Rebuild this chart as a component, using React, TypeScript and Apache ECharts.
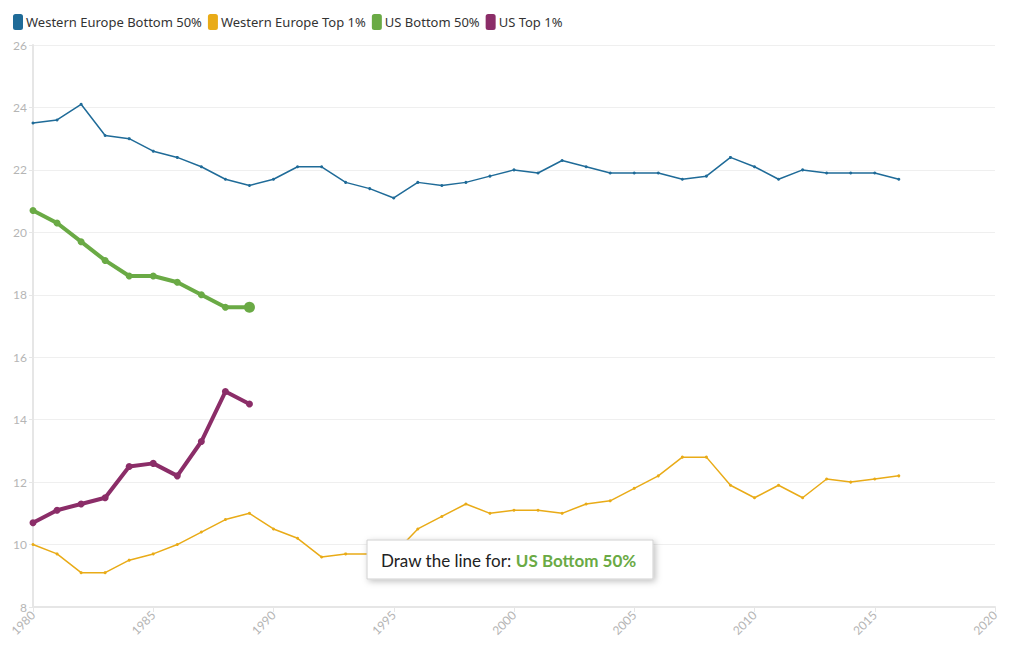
import React, { useEffect, useRef } from "react";
import * as echarts from "echarts";

const weYears: number[] = [1980,1981,1982,1983,1984,1985,1986,1987,1988,1989,1990,1991,1992,1993,1994,1995,1996,1997,1998,1999,2000,2001,2002,2003,2004,2005,2006,2007,2008,2009,2010,2011,2012,2013,2014,2015,2016];
const weBottom50: number[] = [23.5,23.6,24.1,23.1,23.0,22.6,22.4,22.1,21.7,21.5,21.7,22.1,22.1,21.6,21.4,21.1,21.6,21.5,21.6,21.8,22.0,21.9,22.3,22.1,21.9,21.9,21.9,21.7,21.8,22.4,22.1,21.7,22.0,21.9,21.9,21.9,21.7];
const weTop1: number[] = [10.0,9.7,9.1,9.1,9.5,9.7,10.0,10.4,10.8,11.0,10.5,10.2,9.6,9.7,9.7,9.7,10.5,10.9,11.3,11.0,11.1,11.1,11.0,11.3,11.4,11.8,12.2,12.8,12.8,11.9,11.5,11.9,11.5,12.1,12.0,12.1,12.2];
const usYears: number[] = [1980,1981,1982,1983,1984,1985,1986,1987,1988,1989];
const usBottom50: number[] = [20.7,20.3,19.7,19.1,18.6,18.6,18.4,18.0,17.6,17.6];
const usTop1: number[] = [10.7,11.1,11.3,11.5,12.5,12.6,12.2,13.3,14.9,14.5];

const seriesNames = ["Western Europe Bottom 50%", "Western Europe Top 1%", "US Bottom 50%", "US Top 1%"];
const colors = ["#1f6b98", "#e9ab17", "#6aaa45", "#8b2d68"];
const promptLabel = "Draw the line for: ";
const promptSeries = "US Bottom 50%";

const pairs = (xs: number[], ys: number[]) => ys.map((v, i) => [xs[i], v]);

export default function App() {
  const ref = useRef<HTMLDivElement>(null);
  useEffect(() => {
    if (!ref.current) return;
    const chart = echarts.init(ref.current, undefined, { renderer: "svg" });
    const font = "Lato";
    const usB = pairs(usYears, usBottom50).map((p, i, arr) =>
      i === arr.length - 1 ? { value: p, symbolSize: 11 } : { value: p }
    );
    chart.setOption({
      animation: false,
      color: colors,
      textStyle: { fontFamily: font },
      legend: {
        top: 9,
        left: 8,
        icon: "roundRect",
        itemWidth: 10,
        itemHeight: 16,
        itemGap: 6,
        textStyle: { color: "#333", fontSize: 13, fontFamily: "Noto Sans", padding: [0, 0, 0, -2] },
        data: seriesNames,
      },
      grid: { left: 33, right: 25, top: 45, bottom: 43, containLabel: false },
      xAxis: {
        type: "value",
        min: 1980,
        max: 2020,
        interval: 5,
        axisLine: { show: true, lineStyle: { color: "#e6e6e6", width: 2 } },
        axisTick: { show: true, length: 5, lineStyle: { color: "#e6e6e6" } },
        splitLine: { show: false },
        axisLabel: { rotate: 45, color: "#b5b5b5", fontSize: 12, margin: 6, formatter: (v: number) => String(v) },
      },
      yAxis: {
        type: "value",
        min: 8,
        max: 26,
        interval: 2,
        axisLine: { show: true, lineStyle: { color: "#e6e6e6", width: 2 } },
        axisTick: { show: true, length: 4, lineStyle: { color: "#e6e6e6" } },
        splitLine: { show: true, lineStyle: { color: "#efefef", width: 1 } },
        axisLabel: { color: "#b5b5b5", fontSize: 12, margin: 6 },
      },
      series: [
        {
          name: seriesNames[0],
          type: "line",
          data: pairs(weYears, weBottom50),
          symbol: "circle",
          symbolSize: 3,
          lineStyle: { width: 1.5 },
        },
        {
          name: seriesNames[1],
          type: "line",
          data: pairs(weYears, weTop1),
          symbol: "circle",
          symbolSize: 3,
          lineStyle: { width: 1.5 },
        },
        {
          name: seriesNames[2],
          type: "line",
          data: usB,
          symbol: "circle",
          symbolSize: 7,
          lineStyle: { width: 4 },
        },
        {
          name: seriesNames[3],
          type: "line",
          data: pairs(usYears, usTop1),
          symbol: "circle",
          symbolSize: 7,
          lineStyle: { width: 4 },
        },
      ],
      graphic: [
        {
          type: "rect",
          shape: { x: 367, y: 540, width: 286, height: 39 },
          style: {
            fill: "#fff",
            stroke: "#d0d0d0",
            lineWidth: 1,
            shadowBlur: 6,
            shadowOffsetX: 2,
            shadowOffsetY: 2,
            shadowColor: "rgba(0,0,0,0.25)",
          },
          z: 100,
        },
        {
          type: "text",
          x: 381,
          y: 560,
          z: 101,
          style: {
            text: `{a|${promptLabel}}{b|${promptSeries}}`,
            verticalAlign: "middle",
            rich: {
              a: { fontFamily: font, fontSize: 17, fill: "#222", color: "#222" },
              b: { fontFamily: font, fontSize: 17, fontWeight: "bold", fill: colors[2], color: colors[2] },
            },
          },
        },
      ],
    });
    return () => chart.dispose();
  }, []);
  return (
    <div
      ref={ref}
      style={{ position: "fixed", left: 0, top: 0, width: 1020, height: 650, background: "#fff" }}
    />
  );
}
